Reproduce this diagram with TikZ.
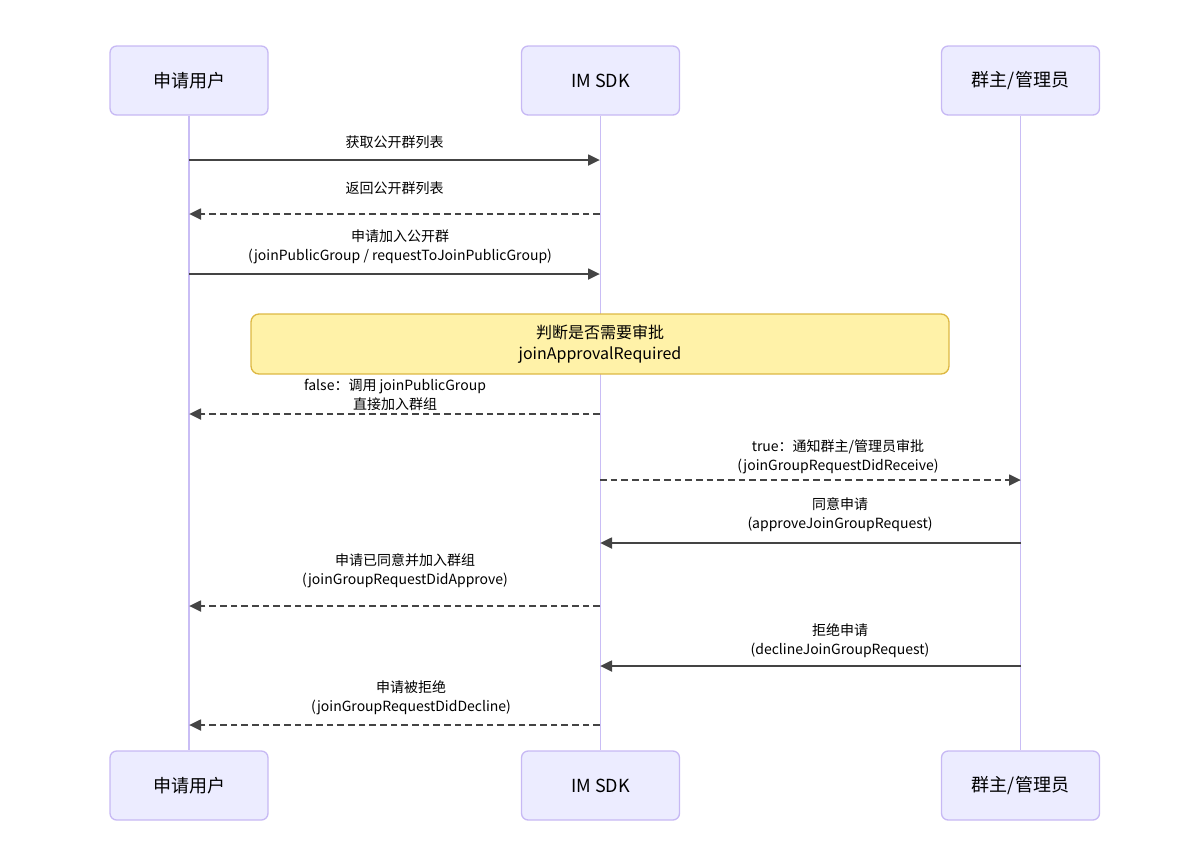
\documentclass[tikz,border=0pt]{standalone}
\usepackage{fontspec}
\setmainfont{Noto Sans CJK SC}
\usetikzlibrary{arrows.meta}
\definecolor{actfill}{HTML}{ECECFF}
\definecolor{actdraw}{HTML}{C7B9F4}
\definecolor{lifecol}{HTML}{C9BDF5}
\definecolor{msgcol}{HTML}{444444}
\definecolor{notefill}{HTML}{FFF2A8}
\definecolor{notedraw}{HTML}{DDB843}
\tikzset{
  actor/.style={draw=actdraw, fill=actfill, line width=1pt, rounded corners=5pt,
    minimum width=118.5pt, minimum height=51.75pt, inner sep=0pt,
    font=\fontsize{13.5}{15}\selectfont},
  life/.style={draw=lifecol, line width=0.8pt},
  msgsolid/.style={draw=msgcol, line width=2pt, -{Triangle[length=9pt,width=8pt]}},
  msgdash/.style={msgsolid, dash pattern=on 5pt off 3pt},
  lbl/.style={align=center, font=\fontsize{10.5}{14.25}\selectfont, inner sep=0pt, text=black},
  notebox/.style={draw=notedraw, fill=notefill, line width=1pt, rounded corners=6pt,
    minimum width=523.5pt, minimum height=45pt, inner sep=0pt, align=center,
    font=\fontsize{12}{15.75}\selectfont}
}
\begin{document}
\begin{tikzpicture}[x=0.75pt,y=-0.75pt]
\useasboundingbox (0,0) rectangle (1200,844);
% actors
\node[actor] (uT) at (189,80.5) {申请用户};
\node[actor] (sT) at (600.5,80.5) {IM SDK};
\node[actor] (gT) at (1020.5,80.5) {群主/管理员};
\node[actor] (uB) at (189,785.5) {申请用户};
\node[actor] (sB) at (600.5,785.5) {IM SDK};
\node[actor] (gB) at (1020.5,785.5) {群主/管理员};
% lifelines
\draw[life] (uT.south) -- (uB.north);
\draw[life] (sT.south) -- (sB.north);
\draw[life] (gT.south) -- (gB.north);
% message anchor points on lifelines
\foreach \n/\y in {1/160,2/214,3/274,4/414,5/480,6/543,7/606,8/666,9/725}{
  \coordinate (u\n) at (189,\y);
  \coordinate (s\n) at (600,\y);
  \coordinate (g\n) at (1021,\y);
}
% note (drawn over lifeline)
\node[notebox] (note) at (600,344) {判断是否需要审批\\joinApprovalRequired};
% messages
\draw[msgsolid] (u1) -- (s1);
\node[lbl] (l1) at (394.5,142) {获取公开群列表};
\draw[msgdash] (s2) -- (u2);
\node[lbl] (l2) at (394.5,188) {返回公开群列表};
\draw[msgsolid] (u3) -- (s3);
\node[lbl] (l3) at (400,246.5) {申请加入公开群\\(joinPublicGroup / requestToJoinPublicGroup)};
\draw[msgdash] (s4) -- (u4);
\node[lbl] (l4) at (395,394.5) {false：调用 joinPublicGroup\\直接加入群组};
\draw[msgdash] (s5) -- (g5);
\node[lbl] (l5) at (838,456.5) {true：通知群主/管理员审批\\(joinGroupRequestDidReceive)};
\draw[msgsolid] (g6) -- (s6);
\node[lbl] (l6) at (840,515) {同意申请\\(approveJoinGroupRequest)};
\draw[msgdash] (s7) -- (u7);
\node[lbl] (l7) at (405,571) {申请已同意并加入群组\\(joinGroupRequestDidApprove)};
\draw[msgsolid] (g8) -- (s8);
\node[lbl] (l8) at (840,641) {拒绝申请\\(declineJoinGroupRequest)};
\draw[msgdash] (s9) -- (u9);
\node[lbl] (l9) at (411,698) {申请被拒绝\\(joinGroupRequestDidDecline)};
\end{tikzpicture}
\end{document}
